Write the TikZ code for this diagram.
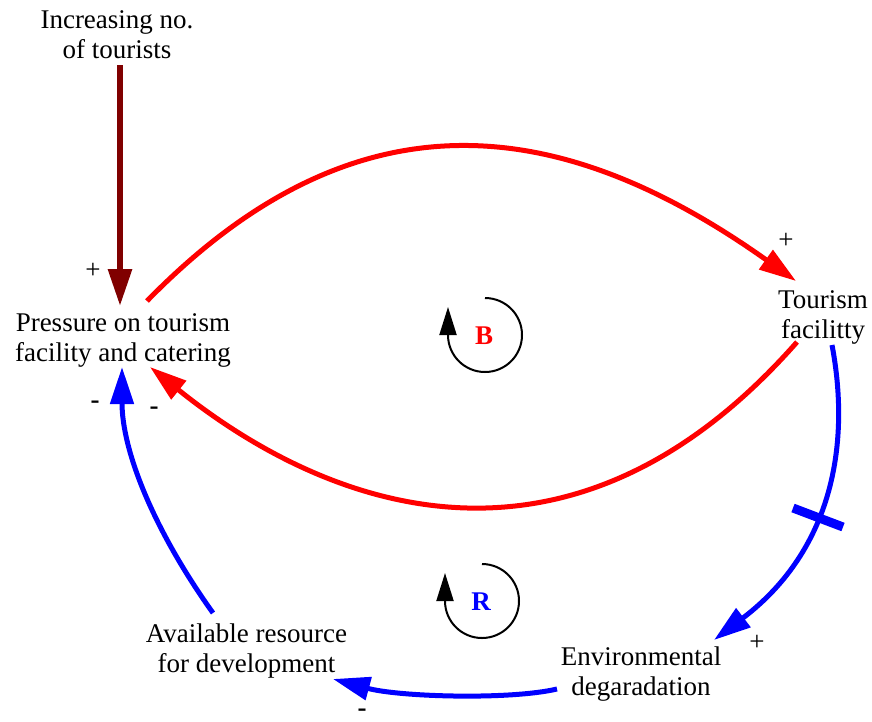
\documentclass[tikz,border=0pt]{standalone}
\usepackage{fontspec}
\setmainfont{Liberation Serif}
\usetikzlibrary{arrows.meta}
\definecolor{linkred}{RGB}{255,0,0}
\definecolor{linkblue}{RGB}{0,0,255}
\definecolor{exored}{RGB}{128,0,0}
\begin{document}
\begin{tikzpicture}[x=1pt,y=-1pt,
  var/.style={align=center, inner sep=0pt, font=\fontsize{27}{30}\selectfont},
  sgn/.style={inner sep=0pt, font=\fontsize{27}{30}\selectfont},
  neg/.style={inner sep=0pt, font=\fontsize{27}{30}\selectfont\bfseries},
  link/.style={line width=5pt, -{Triangle[length=37pt,width=23pt]}},
  looparrow/.style={line width=2pt, -{Triangle[length=28pt,width=17pt]}},
  looplabel/.style={inner sep=0pt, font=\fontsize{27}{30}\selectfont\bfseries}]
\useasboundingbox (0,0) rectangle (872,721);

% variables
\node[var] (inc)   at (117,37)  {Increasing no.\strut\\of tourists\strut};
\node[var] (pres)  at (123,340) {Pressure on tourism\strut\\facility and catering\strut};
\node[var] (tour)  at (823,317) {Tourism\strut\\facilitty\strut};
\node[var] (env)   at (641,674) {Environmental\strut\\degaradation\strut};
\node[var] (avail) at (246.5,651) {Available resource\strut\\for development\strut};

% connector ends
\coordinate (incOut)   at (120,65);
\coordinate (presTop)  at (120,306);
\coordinate (presOutR) at (147,301);
\coordinate (tourTop)  at (796,281);
\coordinate (tourOutL) at (797,342);
\coordinate (presInR)  at (150,367);
\coordinate (tourOutB) at (832,345);
\coordinate (envTop)   at (714,640);
\coordinate (envOut)   at (557,689);
\coordinate (avIn)     at (333,679);
\coordinate (avOut)    at (213,613);
\coordinate (presBot)  at (122,367);

% links
\draw[link, exored, line width=6pt] (incOut) -- (presTop);
\draw[link, linkred] (presOutR) .. controls (354,89) and (558,112) .. (tourTop);
\draw[link, linkred] (tourOutL) .. controls (570,600) and (328,510) .. (presInR);
\draw[link, linkblue] (tourOutB) .. controls (850,440) and (835,548) .. (envTop);
\draw[link, linkblue] (envOut) .. controls (510,700) and (400,697) .. (avIn);
\draw[link, linkblue] (avOut) .. controls (153,529) and (122,450) .. (presBot);

% delay mark
\coordinate (delayA) at (793,508);
\coordinate (delayB) at (843,527);
\draw[linkblue, line width=9pt] (delayA) -- (delayB);

% polarities
\node[sgn] (p1) at (93,271)  {+};
\node[sgn] (p2) at (786,241) {+};
\node[sgn] (p3) at (757,643) {+};
\node[neg] (n1) at (95,405)  {-};
\node[neg] (n2) at (154,411) {-};
\node[neg] (n3) at (362,713) {-};

% loop identifiers
\draw[looparrow] (485,298) arc[start angle=270, end angle=540, radius=37] -- ++(0,-28);
\node[looplabel, text=linkred] (loopB) at (484,336) {B};
\draw[looparrow] (482,564) arc[start angle=270, end angle=540, radius=37] -- ++(0,-28);
\node[looplabel, text=linkblue] (loopR) at (481,602) {R};
\end{tikzpicture}
\end{document}
